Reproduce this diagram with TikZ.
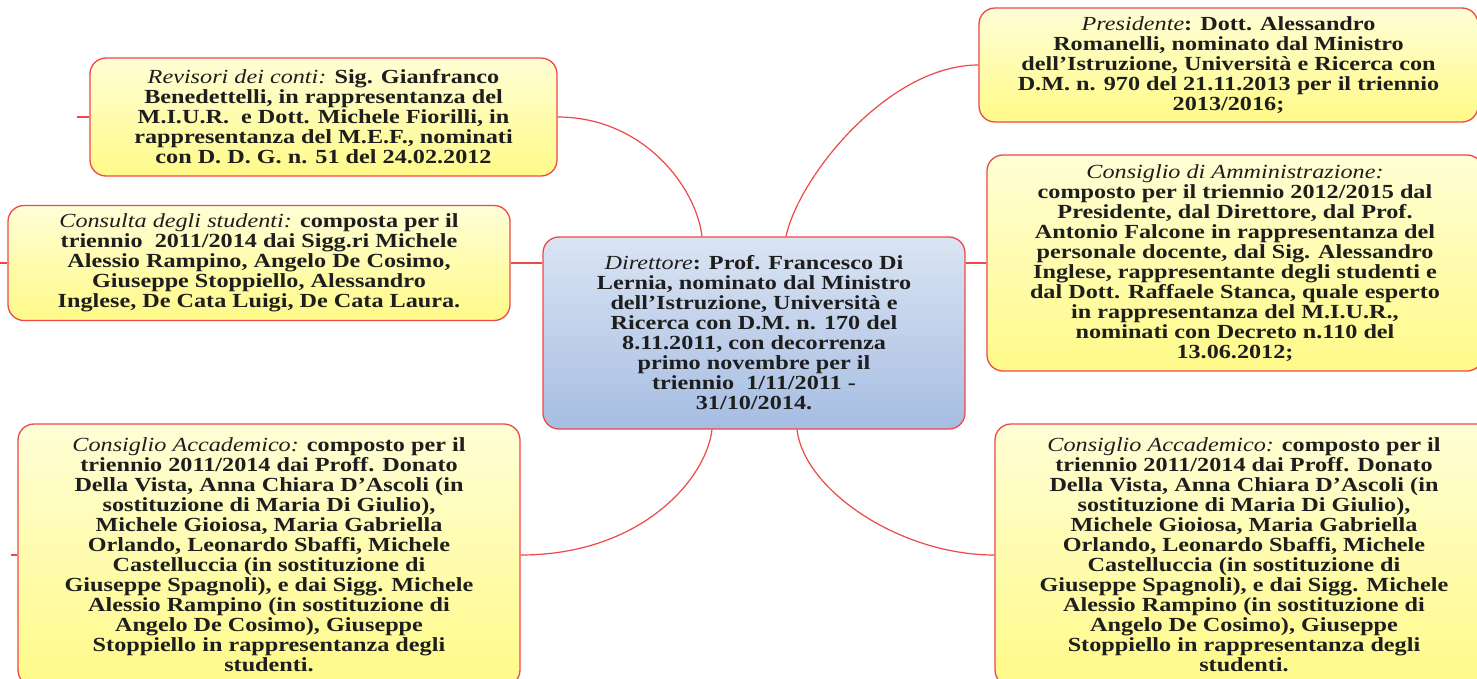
\documentclass[tikz,border=0pt]{standalone}
\usepackage{fontspec}
\setmainfont{Liberation Serif}[FakeStretch=1.21]
\usetikzlibrary{calc}
\definecolor{boxred}{HTML}{EE4848}
\definecolor{yeltop}{HTML}{FFFED6}
\definecolor{yelbot}{HTML}{FFFA88}
\definecolor{bluetop}{HTML}{DAE4F3}
\definecolor{bluebot}{HTML}{A6BDE2}
\definecolor{txt}{HTML}{1E1E1E}
\newcommand\lbl[1]{{\mdseries\itshape #1}}
\tikzset{
  ybox/.style={draw=boxred, line width=1.3pt, rounded corners=16pt, top color=yeltop, bottom color=yelbot,
    inner sep=0pt, align=center, text=txt, font=\fontsize{20}{20}\selectfont\bfseries},
  bbox/.style={ybox, top color=bluetop, bottom color=bluebot},
  link/.style={draw=boxred, line width=1.2pt}
}
\begin{document}
\begin{tikzpicture}[x=1pt,y=-1pt]
\useasboundingbox (0,0) rectangle (1477,678);
\fill[white] (0,0) rectangle (1477,678);
\clip (0,0) rectangle (1477,678);

\node[ybox, minimum width=467pt, minimum height=118pt] (rev) at (323.5,117) {\lbl{Revisori dei conti:} Sig. Gianfranco\\Benedettelli, in rappresentanza del\\M.I.U.R.~ e Dott. Michele Fiorilli, in\\rappresentanza del M.E.F., nominati\\con D. D. G. n. 51 del 24.02.2012};

\node[ybox, minimum width=502pt, minimum height=115pt] (cons) at (259,263) {\lbl{Consulta degli studenti:} composta per il\\triennio~ 2011/2014 dai Sigg.ri Michele\\Alessio Rampino, Angelo De Cosimo,\\Giuseppe Stoppiello, Alessandro\\Inglese, De Cata Luigi, De Cata Laura.};

\node[bbox, minimum width=422pt, minimum height=192pt] (dir) at (754,333) {\lbl{Direttore}: Prof. Francesco Di\\Lernia, nominato dal Ministro\\dell’Istruzione, Università e\\Ricerca con D.M. n. 170 del\\8.11.2011, con decorrenza\\primo novembre per il\\triennio~ 1/11/2011 -\\31/10/2014.};

\node[ybox, minimum width=499pt, minimum height=114pt] (pres) at (1228.5,65) {\lbl{Presidente}: Dott. Alessandro\\Romanelli, nominato dal Ministro\\dell’Istruzione, Università e Ricerca con\\D.M. n. 970 del 21.11.2013 per il triennio\\2013/2016;};

\node[ybox, minimum width=496pt, minimum height=216pt] (cda) at (1235,263) {\lbl{Consiglio di Amministrazione:}\\composto per il triennio 2012/2015 dal\\Presidente, dal Direttore, dal Prof.\\Antonio Falcone in rappresentanza del\\personale docente, dal Sig. Alessandro\\Inglese, rappresentante degli studenti e\\dal Dott. Raffaele Stanca, quale esperto\\in rappresentanza del M.I.U.R.,\\nominati con Decreto n.110 del\\13.06.2012;};

\node[ybox, minimum width=502pt, minimum height=262pt] (cal) at (269,555) {\lbl{Consiglio Accademico:} composto per il\\triennio 2011/2014 dai Proff. Donato\\Della Vista, Anna Chiara D’Ascoli (in\\sostituzione di Maria Di Giulio),\\Michele Gioiosa, Maria Gabriella\\Orlando, Leonardo Sbaffi, Michele\\Castelluccia (in sostituzione di\\Giuseppe Spagnoli), e dai Sigg. Michele\\Alessio Rampino (in sostituzione di\\Angelo De Cosimo), Giuseppe\\Stoppiello in rappresentanza degli\\studenti.};

\node[ybox, minimum width=498pt, minimum height=262pt] (car) at (1244,555) {\lbl{Consiglio Accademico:} composto per il\\triennio 2011/2014 dai Proff. Donato\\Della Vista, Anna Chiara D’Ascoli (in\\sostituzione di Maria Di Giulio),\\Michele Gioiosa, Maria Gabriella\\Orlando, Leonardo Sbaffi, Michele\\Castelluccia (in sostituzione di\\Giuseppe Spagnoli), e dai Sigg. Michele\\Alessio Rampino (in sostituzione di\\Angelo De Cosimo), Giuseppe\\Stoppiello in rappresentanza degli\\studenti.};

% connectors
\draw[link] (rev.east) .. controls ($(rev.east)+(85,0)$) and ($(dir.north)+(-58,-50)$) .. ($(dir.north)+(-52,0)$);
\draw[link] ($(dir.north)+(32,0)$) .. controls ($(dir.north)+(45,-60)$) and ($(pres.west)+(-90,0)$) .. (pres.west);
\draw[link] (cons.east) -- (cons.east -| dir.west);
\draw[link] (dir.east |- cda.west) -- (cda.west);
\draw[link] (cal.east) .. controls ($(cal.east)+(120,0)$) and ($(dir.south)+(-48,50)$) .. ($(dir.south)+(-42,0)$);
\draw[link] ($(dir.south)+(43,0)$) .. controls ($(dir.south)+(50,60)$) and ($(car.west)+(-95,0)$) .. (car.west);
% stubs
\draw[link] (rev.west) -- ++(-12,0);
\draw[link] (cons.west) -- ++(-8,0);
\draw[link] (cal.west) -- ++(-6,0);
\end{tikzpicture}
\end{document}
